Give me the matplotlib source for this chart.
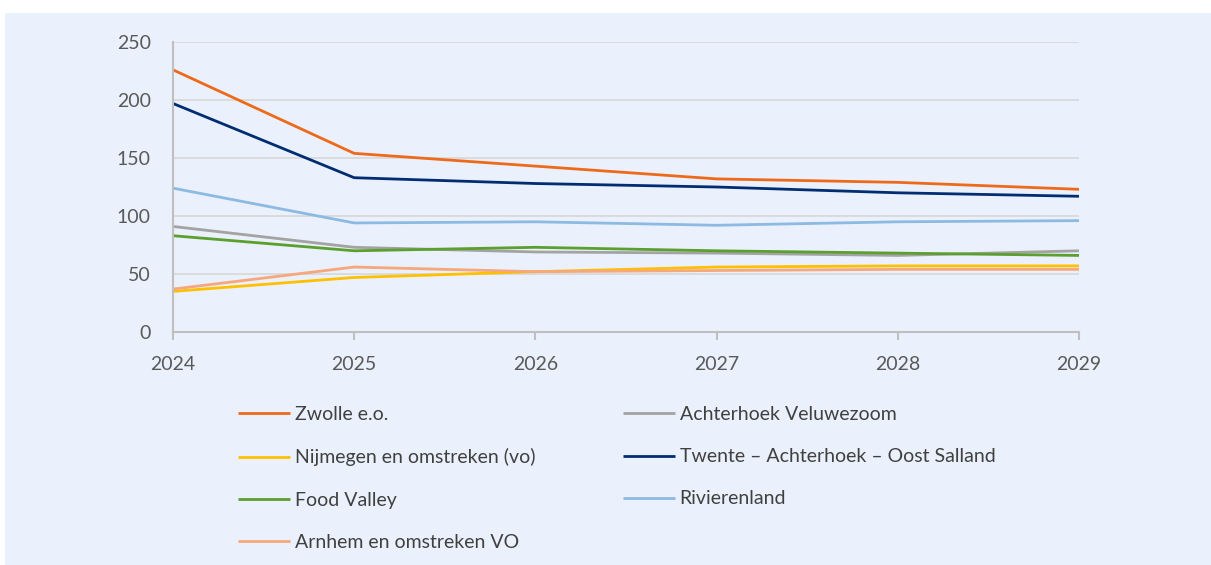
import matplotlib.pyplot as plt
from matplotlib.patches import Rectangle

# Data
years = [2024, 2025, 2026, 2027, 2028, 2029]

zwolle = [226, 154, 143, 132, 129, 123]
achterhoek_veluwezoom = [91, 73, 69, 68, 66, 70]
nijmegen = [35, 47, 52, 56, 57, 57]
twente = [197, 133, 128, 125, 120, 117]
food_valley = [83, 70, 73, 70, 68, 66]
rivierenland = [124, 94, 95, 92, 95, 96]
arnhem = [37, 56, 52, 53, 54, 54]

series = [
    ('Zwolle e.o.', zwolle, '#EE6A1B'),
    ('Achterhoek Veluwezoom', achterhoek_veluwezoom, '#A3A3A3'),
    ('Nijmegen en omstreken (vo)', nijmegen, '#FFC000'),
    ('Twente \u2013 Achterhoek \u2013 Oost Salland', twente, '#002D72'),
    ('Food Valley', food_valley, '#5B9F2E'),
    ('Rivierenland', rivierenland, '#8DBAE2'),
    ('Arnhem en omstreken VO', arnhem, '#F7A77C'),
]

plt.rcParams['font.family'] = ['Lato', 'DejaVu Sans']
bg = '#EAF1FC'

fig = plt.figure(figsize=(12.11, 5.65), dpi=100)
fig.patch.set_facecolor('white')
fig.add_artist(Rectangle((5 / 1211, 0), 1, 1 - 13 / 565, transform=fig.transFigure,
                         facecolor=bg, edgecolor='none', zorder=0))

ax = fig.add_axes([173 / 1211, 1 - 332 / 565, (1079 - 173) / 1211, (332 - 42) / 565])
ax.set_facecolor('none')

handles = {}
for name, vals, color in series:
    h, = ax.plot(years, vals, color=color, lw=2.0, label=name, solid_capstyle='butt')
    handles[name] = h

ax.set_xlim(2024, 2029)
ax.set_ylim(0, 250)
ax.set_yticks([0, 50, 100, 150, 200, 250])
ax.set_xticks(years)
ax.grid(axis='y', color='#D9D9D9', lw=1.3)
ax.set_axisbelow(True)
for s in ['top', 'right']:
    ax.spines[s].set_visible(False)
for s in ['left', 'bottom']:
    ax.spines[s].set_color('#BFBFBF')
    ax.spines[s].set_linewidth(1.5)
ax.tick_params(axis='y', length=0, pad=16, labelsize=14, labelcolor='#595959')
ax.tick_params(axis='x', length=6, width=1.5, color='#BFBFBF', pad=11,
               labelsize=14, labelcolor='#595959', direction='out')

order = ['Zwolle e.o.', 'Nijmegen en omstreken (vo)', 'Food Valley', 'Arnhem en omstreken VO',
         'Achterhoek Veluwezoom', 'Twente \u2013 Achterhoek \u2013 Oost Salland', 'Rivierenland']
fig.legend([handles[n] for n in order], order, ncol=2, loc='upper left',
           bbox_to_anchor=(230 / 1211, 1 - 398.5 / 565), frameon=False, borderaxespad=0,
           fontsize=14, labelcolor='#404040', handlelength=2.68, handletextpad=0.26,
           labelspacing=1.29, columnspacing=4.48)

plt.savefig('out.png', dpi=100, facecolor='white')
